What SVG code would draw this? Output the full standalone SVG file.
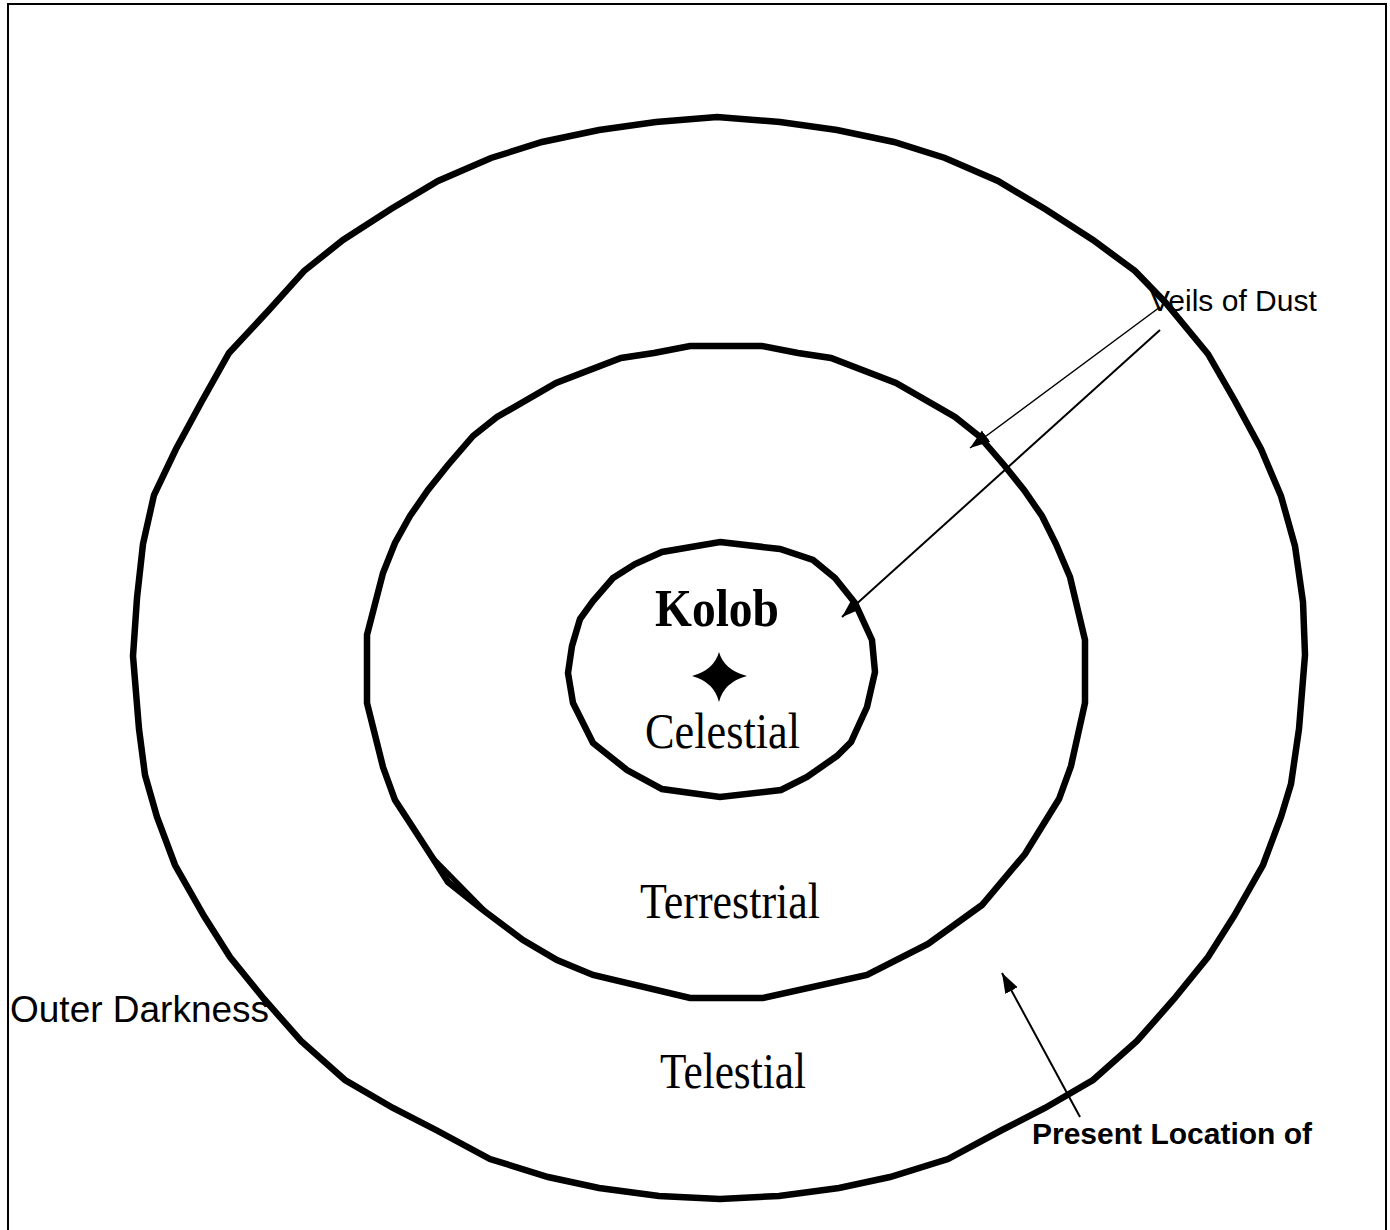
<svg xmlns="http://www.w3.org/2000/svg" width="1390" height="1230" viewBox="0 0 1390 1230">
<style>
.ring{fill:none;stroke:#000;stroke-width:6.5;stroke-linejoin:miter}
.times{font-family:"Liberation Serif","Times New Roman",serif;fill:#000}
.arial{font-family:"Liberation Sans",Arial,sans-serif;fill:#000}
.conn{fill:none;stroke:#000}
</style>
<defs>
<marker id="ah" markerUnits="userSpaceOnUse" markerWidth="22" markerHeight="16" refX="20" refY="8" orient="auto">
<path d="M0,1 L20,8 L0,15 Z" fill="#000"/>
</marker>
</defs>
<rect x="8" y="4" width="1378" height="1236" fill="#fff" stroke="#000" stroke-width="2"/>
<g id="outer-ring">
<polygon class="ring" points="717,117 780,122 837,130 894,142 945,158 998,181 1045,209 1093,240 1135,271 1165,302 1208,354 1235,401 1261,449 1281,496 1295,546 1303,602 1305,655 1299,729 1291,784 1281,817 1263,865 1234,916 1208,957 1174,999 1137,1041 1093,1080 1045,1108 1002,1130 948,1159 890,1177 839,1188 779,1196 720,1199 659,1196 599,1188 548,1177 490,1159 436,1130 393,1108 345,1080 301,1041 264,999 230,957 204,916 175,865 157,817 145,775 139,729 133,656 137,598 143,544 154,495 176,449 202,401 229,353 269,310 304,271 343,240 391,209 438,181 491,158 542,142 599,130 656,122"/>
</g>
<g id="middle-ring">
<polygon class="ring" points="690,346 762,346 798,353 831,358 896,383 955,417 979,436 1004,465 1024,490 1042,516 1056,544 1070,577 1085,640 1085,703 1071,766 1059,799 1025,854 982,905 928,944 867,975 763,998 690,998 593,975 557,960 523,940 483,910 448,882 432,857 410,823 395,800 383,767 367,703 367,635 383,573 395,543 410,516 428,490 448,465 473,436 497,417 556,383 621,358 654,353"/>
<line x1="432" y1="857" x2="485" y2="911" stroke="#000" stroke-width="5"/>
</g>
<g id="inner-ring">
<polygon class="ring" points="720,542 780,549 813,560 835,578 855,603 872,640 875,672 867,707 851,742 837,756 807,777 781,790 720,797 662,789 627,770 593,743 573,703 568,673 572,646 580,619 593,601 613,578 635,564 662,552"/>
</g>
<g id="kolob">
<path d="M719,652 Q724,670 747,676 Q724,682 719,702 Q714,682 692,676 Q714,670 719,652 Z" fill="#000"/>
<text class="times" x="655" y="626" font-size="52" font-weight="bold" textLength="124" lengthAdjust="spacingAndGlyphs">Kolob</text>
</g>
<g id="celestial">
<text class="times" x="645" y="748" font-size="50" textLength="155" lengthAdjust="spacingAndGlyphs">Celestial</text>
</g>
<g id="terrestrial">
<text class="times" x="640" y="918" font-size="50" textLength="180" lengthAdjust="spacingAndGlyphs">Terrestrial</text>
</g>
<g id="telestial">
<text class="times" x="660" y="1088" font-size="50" textLength="146" lengthAdjust="spacingAndGlyphs">Telestial</text>
</g>
<g id="outer-darkness">
<text class="arial" x="10" y="1022" font-size="37">Outer Darkness</text>
</g>
<g id="veils-of-dust">
<text class="arial" x="1150" y="311" font-size="30">Veils of Dust</text>
</g>
<g id="present-location">
<text class="arial" x="1032" y="1144" font-size="30" font-weight="bold">Present Location of</text>
</g>
<g id="connectors">
<line class="conn" x1="1160" y1="307" x2="970" y2="448" stroke-width="1.5" marker-end="url(#ah)"/>
<line class="conn" x1="1160" y1="330" x2="842" y2="617" stroke-width="2" marker-end="url(#ah)"/>
<line class="conn" x1="1080" y1="1117" x2="1002" y2="973" stroke-width="2" marker-end="url(#ah)"/>
</g>
</svg>
